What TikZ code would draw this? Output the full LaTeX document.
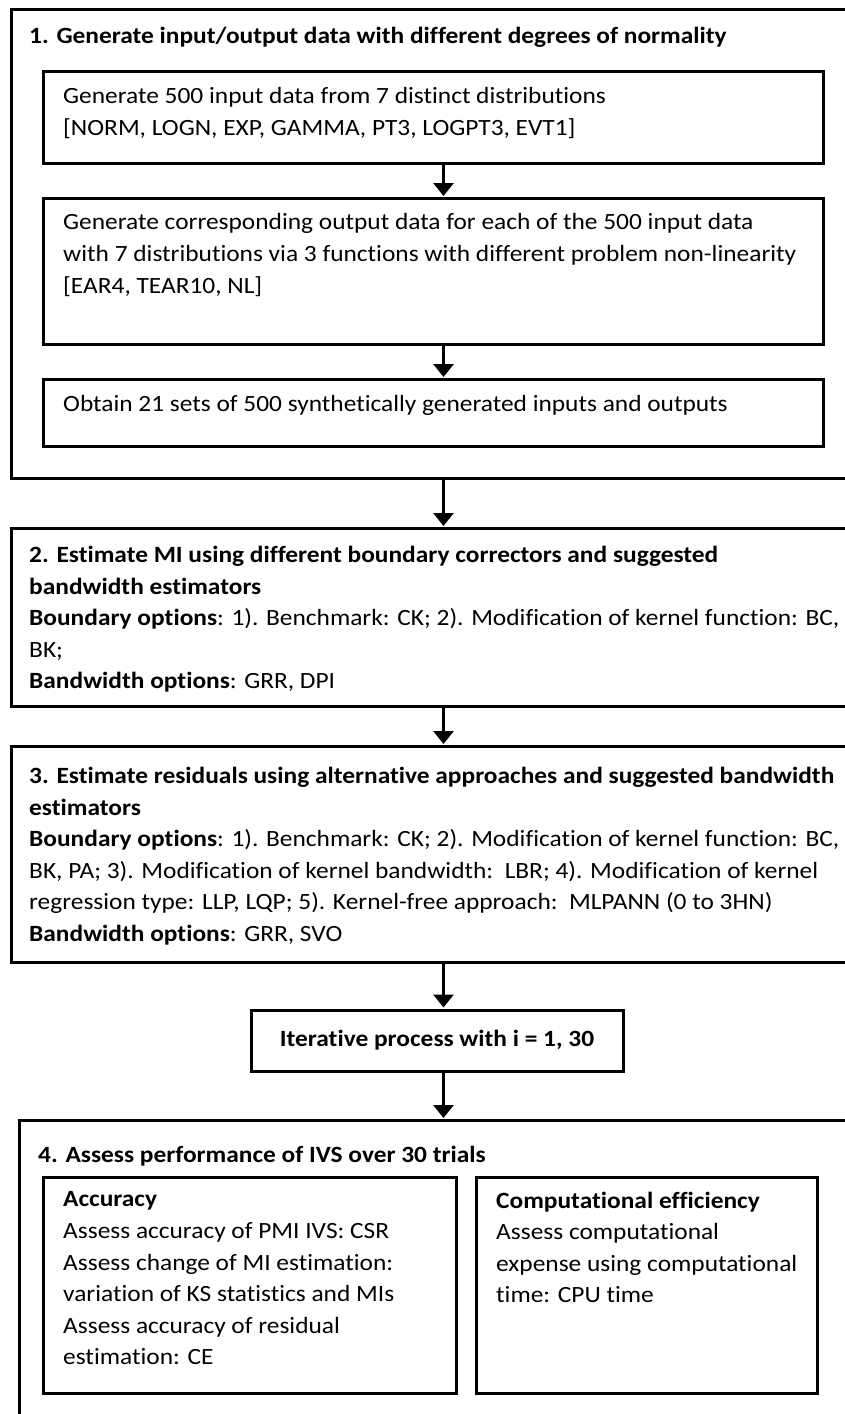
\documentclass[tikz,border=0pt]{standalone}
\usepackage{fontspec}
\setmainfont{Carlito}[FakeStretch=1.09, Ligatures=NoCommon]
\usetikzlibrary{arrows.meta}

\tikzset{
	box/.style={draw, line width=3pt, anchor=north west, inner sep=0pt},
	txt/.style={anchor=north west, inner sep=0pt, align=left, font=\fontsize{23.3}{31.6}\selectfont},
	arr/.style={-{Triangle[width=20pt,length=13pt]}, line width=3pt, shorten >=1pt},
}

\begin{document}
\begin{tikzpicture}[x=1pt, y=-1pt]
	\useasboundingbox (0,0) rectangle (845,1414);

	\node[box, minimum width=864, minimum height=469] (grp1) at (10,8) {};
	\node[txt] (grp1t) at (29,27) {\textbf{1. Generate input/output data with different degrees of normality}};
	\node[box, minimum width=780, minimum height=92] (gen) at (42,70) {};
	\node[txt] (gent) at (63,87.5) {Generate 500 input data from 7 distinct distributions\\
		{[}NORM, LOGN, EXP, GAMMA, PT3, LOGPT3, EVT1{]}};
	\node[box, minimum width=780, minimum height=146] (out) at (42,197) {};
	\node[txt] (outt) at (63,213.5) {Generate corresponding output data for each of the 500 input data\\
		with 7 distributions via 3 functions with different problem non-linearity\\
		{[}EAR4, TEAR10, NL{]}};
	\node[box, minimum width=780, minimum height=67] (sets) at (42,378) {};
	\node[txt] (setst) at (63,395.5) {Obtain 21 sets of 500 synthetically generated inputs and outputs};

	\node[box, minimum width=864, minimum height=178] (mi) at (10,527) {};
	\node[txt] (mit) at (29,546) {\textbf{2. Estimate MI using different boundary correctors and suggested}\\
		\textbf{bandwidth estimators}\\
		\textbf{Boundary options}: 1). Benchmark: CK; 2). Modification of kernel function: BC,\\
		BK;\\
		\textbf{Bandwidth options}: GRR, DPI};

	\node[box, minimum width=864, minimum height=216] (res) at (10,745) {};
	\node[txt] (rest) at (29,767) {\textbf{3. Estimate residuals using alternative approaches and suggested bandwidth}\\
		\textbf{estimators}\\
		\textbf{Boundary options}: 1). Benchmark: CK; 2). Modification of kernel function: BC,\\
		BK, PA; 3). Modification of kernel bandwidth:\ \ LBR; 4). Modification of kernel\\
		regression type: LLP, LQP; 5). Kernel-free approach:\ \ MLPANN (0 to 3HN)\\
		\textbf{Bandwidth options}: GRR, SVO};

	\node[box, anchor=center, minimum width=372, minimum height=61, font=\fontsize{23.3}{31.6}\selectfont] (iter) at (437,1040.5) {\textbf{Iterative process with i = 1, 30}};

	\node[box, minimum width=848, minimum height=340] (perf) at (18,1119) {};
	\node[txt] (perft) at (38,1146) {\textbf{4. Assess performance of IVS over 30 trials}};
	\node[box, minimum width=413, minimum height=216] (acc) at (42,1176) {};
	\node[txt] (acct) at (63,1191.5) {\textbf{Accuracy}\\
		Assess accuracy of PMI IVS: CSR\\
		Assess change of MI estimation:\\
		variation of KS statistics and MIs\\
		Assess accuracy of residual\\
		estimation: CE};
	\node[box, minimum width=341, minimum height=216] (cpu) at (475,1176) {};
	\node[txt] (cput) at (496,1191.5) {\textbf{Computational efficiency}\\
		Assess computational\\
		expense using computational\\
		time: CPU time};

	\path[arr]
	(gen.south -| grp1.north) edge (out.north -| grp1.north)
	(out.south -| grp1.north) edge (sets.north -| grp1.north)
	(grp1.south) edge (mi.north)
	(mi.south) edge (res.north)
	(res.south) edge (iter.north -| res.south)
	(iter.south -| perf.north) edge (perf.north)
	;
\end{tikzpicture}
\end{document}
